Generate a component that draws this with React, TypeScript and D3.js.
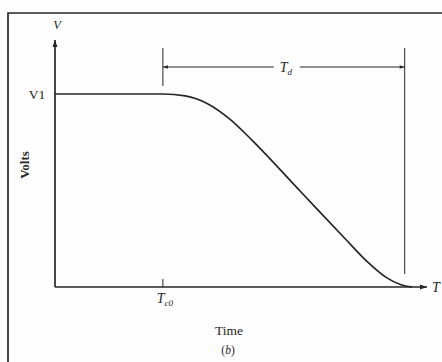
import React from "react";
import * as d3 from "d3";

// Time (arbitrary units 0..100) and volts (fraction of V1)
const curveTime = [0, 29, 35, 41, 47, 53, 66, 78, 84, 89, 93, 96];
const curveVolts = [1, 1, 0.99, 0.95, 0.87, 0.76, 0.495, 0.25, 0.13, 0.05, 0.012, 0];
const axisMaxTime = 100;
const axisMaxVolts = 1.28;
const tc0 = 29;
const tdEnd = 94;
const v1 = 1;

const W = 442;
const H = 362;
const ink = "#262626";
const serif = "'Liberation Serif', 'DejaVu Serif', serif";

export default function App() {
  const x = d3.scaleLinear().domain([0, axisMaxTime]).range([55, 427]);
  const y = d3.scaleLinear().domain([0, v1]).range([287, 94]);
  const pts: [number, number][] = curveTime.map((t, i) => [t, curveVolts[i]]);
  const line = d3
    .line<[number, number]>()
    .x((d) => x(d[0]))
    .y((d) => y(d[1]))
    .curve(d3.curveMonotoneX);

  const x0 = x(0), y0 = y(0);
  const xTop = y(axisMaxVolts);
  const xEnd = x(axisMaxTime);
  const xa = x(tc0), xb = x(tdEnd);
  const dimY = 67;
  const labelX = (xa + xb) / 2 + 2;

  return (
    <svg width={W} height={H} style={{ position: "absolute", left: 0, top: 0, background: "#fdfdfd" }}>
      <defs>
        <marker id="ah" viewBox="0 0 10 10" refX="10" refY="5" markerWidth="7" markerHeight="7" orient="auto-start-reverse" markerUnits="userSpaceOnUse">
          <path d="M0,1.5 L10,5 L0,8.5 Z" fill={ink} />
        </marker>
        <marker id="ahs" viewBox="0 0 10 10" refX="10" refY="5" markerWidth="6" markerHeight="5" orient="auto-start-reverse" markerUnits="userSpaceOnUse">
          <path d="M0,1.5 L10,5 L0,8.5 Z" fill={ink} />
        </marker>
      </defs>
      <rect x={0} y={0} width={W} height={H} fill="#fdfdfd" />
      {/* frame */}
      <path d={`M8,${H + 2} L8,13 L${W + 2},13`} fill="none" stroke={ink} strokeWidth={1.7} />

      {/* axes */}
      <line x1={x0} y1={y0} x2={x0} y2={xTop} stroke={ink} strokeWidth={1.7} markerEnd="url(#ah)" />
      <line x1={x0} y1={y0} x2={xEnd} y2={y0} stroke={ink} strokeWidth={1.7} markerEnd="url(#ah)" />

      {/* curve */}
      <path d={line(pts) || ""} fill="none" stroke={ink} strokeWidth={1.7} />

      {/* Tc0 tick */}
      <line x1={xa} y1={y0} x2={xa} y2={y0 - 8} stroke={ink} strokeWidth={1} />

      {/* dimension lines */}
      <line x1={xa} y1={48} x2={xa} y2={86} stroke={ink} strokeWidth={1} />
      <line x1={xb} y1={48} x2={xb} y2={274} stroke={ink} strokeWidth={1} />
      <line x1={labelX - 12} y1={dimY} x2={xa} y2={dimY} stroke={ink} strokeWidth={1} markerEnd="url(#ahs)" />
      <line x1={labelX + 14} y1={dimY} x2={xb} y2={dimY} stroke={ink} strokeWidth={1} markerEnd="url(#ahs)" />

      {/* labels */}
      <g fontFamily={serif} fill={ink}>
        <text x={x0 + 2} y={29} fontSize={12.5} fontStyle="italic" textAnchor="middle">V</text>
        <text x={37} y={y(v1) + 5} fontSize={13.5} textAnchor="middle">V1</text>
        <text transform="translate(29,165) rotate(-90)" fontSize={13} fontWeight="bold" textAnchor="middle">Volts</text>
        <text x={labelX} y={dimY + 5} fontSize={14} fontStyle="italic" textAnchor="middle">
          T<tspan fontSize={9} dy={3}>d</tspan>
        </text>
        <text x={436} y={y0 + 5} fontSize={14} fontStyle="italic" textAnchor="middle">T</text>
        <text x={xa + 2} y={303} fontSize={14} fontStyle="italic" textAnchor="middle">
          T<tspan fontSize={9} dy={3}>c0</tspan>
        </text>
        <text x={229} y={335} fontSize={13.5} textAnchor="middle">Time</text>
        <text x={228} y={354} fontSize={11.5} textAnchor="middle">
          (<tspan fontStyle="italic">b</tspan>)
        </text>
      </g>
    </svg>
  );
}
